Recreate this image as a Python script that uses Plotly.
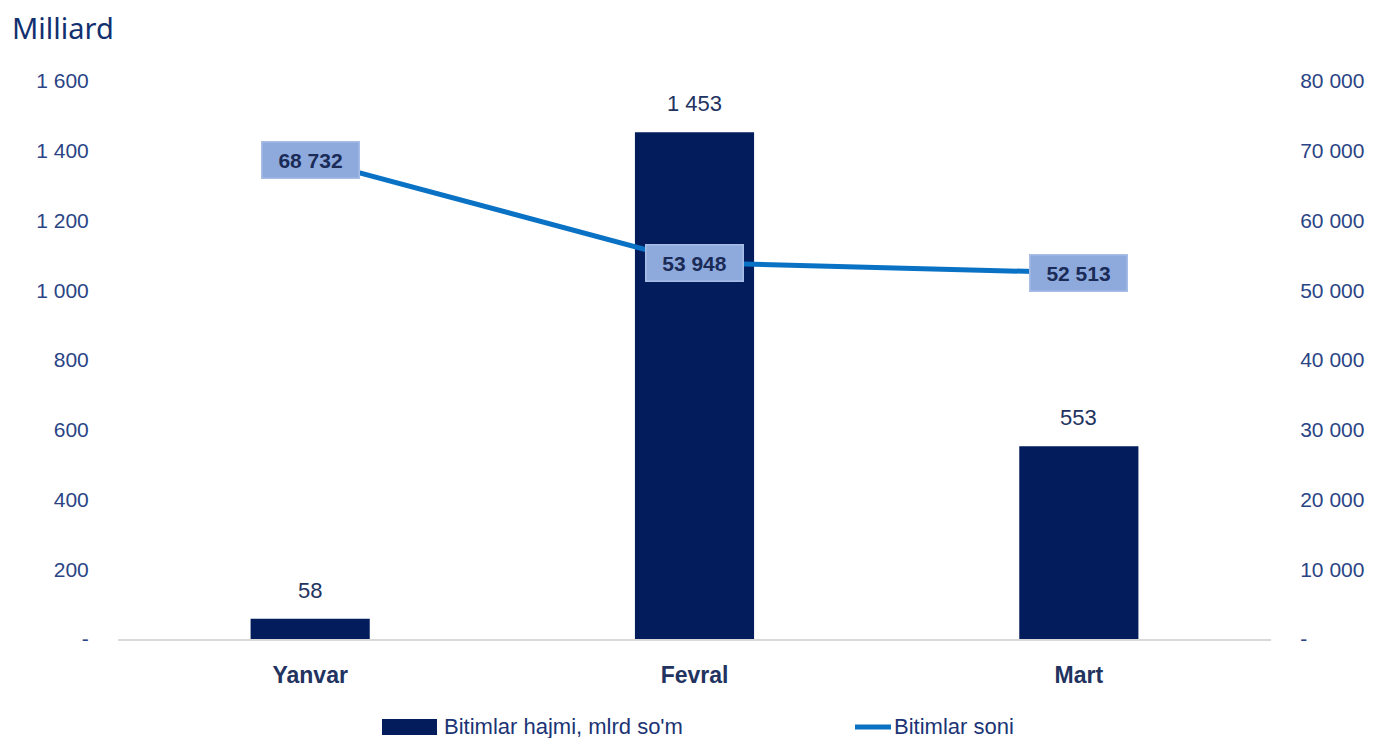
import plotly.graph_objects as go

months = ['Yanvar', 'Fevral', 'Mart']
hajmi = [58, 1453, 553]          # Bitimlar hajmi, mlrd so'm
soni = [68732, 53948, 52513]     # Bitimlar soni
hajmi_labels = ['58', '1 453', '553']
soni_labels = ['68 732', '53 948', '52 513']

y1_ticks = [0, 200, 400, 600, 800, 1000, 1200, 1400, 1600]
y1_text = ['-', '200', '400', '600', '800', '1 000', '1 200', '1 400', '1 600']
y2_ticks = [0, 10000, 20000, 30000, 40000, 50000, 60000, 70000, 80000]
y2_text = ['-', '10 000', '20 000', '30 000', '40 000', '50 000', '60 000', '70 000', '80 000']

navy = '#021c5c'
line_color = '#0a72c4'
tick_color = '#2a4485'

# страница имеет отступ 8px у body, поэтому фигура чуть меньше окна
OFF = 8
W, H = 1376 - OFF, 738 - OFF
L, R, T, B = 118 - OFF, 105, 81 - OFF, 99
PW, PH = W - L - R, H - T - B


def px(x):
    # x в пикселях окна -> координаты paper
    return (x - OFF - L) / PW


def py(y):
    return (H - B - (y - OFF)) / PH


fig = go.Figure()

# Столбцы - объем сделок
fig.add_trace(go.Bar(x=months, y=hajmi, name="Bitimlar hajmi, mlrd so'm",
                     marker=dict(color=navy, line=dict(width=0)), yaxis='y'))

# Линия - количество сделок
fig.add_trace(go.Scatter(x=months, y=soni, name='Bitimlar soni', mode='lines',
                         line=dict(color=line_color, width=5), yaxis='y2'))

annotations = []
for m, v, t in zip(months, hajmi, hajmi_labels):
    annotations.append(dict(x=m, y=v, xref='x', yref='y', text=t, showarrow=False,
                            yanchor='bottom', yshift=14,
                            font=dict(size=22, color='#22335f', family='Liberation Sans')))
for m, v, t in zip(months, soni, soni_labels):
    annotations.append(dict(x=m, y=v, xref='x', yref='y2', text='<b>' + t + '</b>', showarrow=False,
                            bgcolor='#8eaadd', bordercolor='#a8bde6', borderwidth=1.5,
                            borderpad=6, width=84,
                            font=dict(size=21, color='#1a2b57', family='Liberation Sans')))

annotations.append(dict(x=px(11), y=py(28), xref='paper', yref='paper', text='Milliard',
                        showarrow=False, xanchor='left', yanchor='middle', borderpad=0,
                        font=dict(size=29, color='#12306f', family='Noto Sans')))

# Легенда (вручную, чтобы повторить вид значков)
annotations.append(dict(x=px(442), y=py(726), xref='paper', yref='paper',
                        text="Bitimlar hajmi, mlrd so'm", showarrow=False,
                        xanchor='left', yanchor='middle',
                        font=dict(size=22, color='#1b3475', family='Liberation Sans')))
annotations.append(dict(x=px(892), y=py(726), xref='paper', yref='paper',
                        text='Bitimlar soni', showarrow=False,
                        xanchor='left', yanchor='middle',
                        font=dict(size=22, color='#1b3475', family='Liberation Sans')))

shapes = [
    dict(type='rect', xref='paper', yref='paper', x0=px(382), x1=px(437), y0=py(735), y1=py(719),
         fillcolor=navy, line=dict(width=0)),
    dict(type='line', xref='paper', yref='paper', x0=px(855), x1=px(891), y0=py(727), y1=py(727),
         line=dict(color=line_color, width=5)),
]

fig.update_layout(
    width=W, height=H,
    margin=dict(l=L, r=R, t=T, b=B),
    plot_bgcolor='white', paper_bgcolor='white',
    bargap=0.69,
    showlegend=False,
    xaxis=dict(showline=True, linecolor='#d9d9d9', linewidth=1.5, showgrid=False,
               ticks='outside', ticklen=15, tickcolor='rgba(0,0,0,0)', automargin=False,
               tickfont=dict(size=23, color='#22335f', family='Liberation Sans', weight='bold')),
    yaxis=dict(range=[0, 1600], tickvals=y1_ticks, ticktext=y1_text, showgrid=False,
               zeroline=False, ticks='outside', ticklen=24, tickcolor='rgba(0,0,0,0)',
               automargin=False,
               tickfont=dict(size=21, color=tick_color, family='Liberation Sans')),
    yaxis2=dict(range=[0, 80000], tickvals=y2_ticks, ticktext=y2_text, overlaying='y',
                side='right', showgrid=False, zeroline=False, ticks='outside', ticklen=24,
                tickcolor='rgba(0,0,0,0)', automargin=False,
                tickfont=dict(size=21, color=tick_color, family='Liberation Sans')),
    annotations=annotations,
    shapes=shapes,
)

fig.write_html('out.html')
